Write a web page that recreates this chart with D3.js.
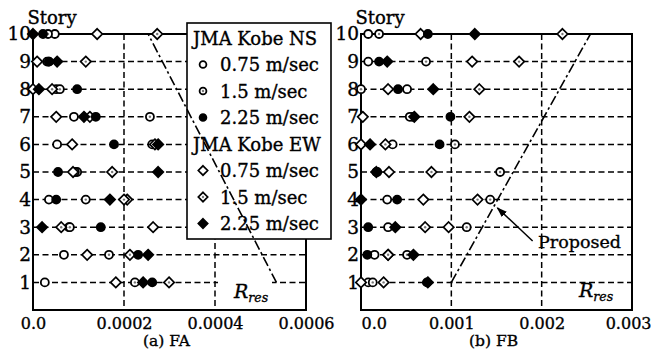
<!DOCTYPE html>
<html>
<head>
<meta charset="utf-8">
<script src="https://cdn.jsdelivr.net/npm/d3@7"></script>
<style>
  body { margin: 0; background: #fff; }
  svg { display: block; }
  text { font-family: "DejaVu Serif", "Liberation Serif", serif; fill: #000; stroke: #000; stroke-width: 0.35px; }
</style>
</head>
<body>
<svg id="chart" width="653" height="353"></svg>
<script>
// Stories (floors) on the vertical axis
const stories = [1, 2, 3, 4, 5, 6, 7, 8, 9, 10];

// Residual drift, frame FA (stories 1..10)
const faNS075 = [0.26e-4, 0.68e-4, 0.79e-4, 0.35e-4, 0.97e-4, 0.53e-4, 0.90e-4, 0.51e-4, 0.31e-4, 0.48e-4];
const faNS150 = [2.24e-4, 1.67e-4, 0.81e-4, 1.16e-4, 0.92e-4, 2.62e-4, 2.57e-4, 0.59e-4, 0.35e-4, 0.33e-4];
const faNS225 = [2.62e-4, 2.31e-4, 1.49e-4, 0.51e-4, 0.55e-4, 1.78e-4, 1.38e-4, 0.97e-4, 0.35e-4, 0.22e-4];
const faEW075 = [1.82e-4, 1.19e-4, 2.64e-4, 2.07e-4, 0.88e-4, 0.86e-4, 0.51e-4, 0.00e-4, 0.09e-4, 1.41e-4];
const faEW150 = [2.99e-4, 2.13e-4, 0.62e-4, 2.00e-4, 1.74e-4, 2.68e-4, 1.25e-4, 0.42e-4, 1.16e-4, 2.73e-4];
const faEW225 = [2.42e-4, 2.53e-4, 0.20e-4, 1.69e-4, 2.75e-4, 2.75e-4, 1.12e-4, 0.13e-4, 0.53e-4, 0.00e-4];

// Residual drift, frame FB (stories 1..10)
const fbNS075 = [0.08e-3, 0.15e-3, 0.30e-3, 0.29e-3, 0.17e-3, 0.35e-3, 0.57e-3, 0.51e-3, 0.08e-3, 0.08e-3];
const fbNS150 = [0.13e-3, 0.51e-3, 1.17e-3, 1.43e-3, 1.54e-3, 1.04e-3, 0.54e-3, 0.00e-3, 0.72e-3, 0.20e-3];
const fbNS225 = [0.73e-3, 0.07e-3, 0.08e-3, 0.40e-3, 0.18e-3, 0.87e-3, 0.99e-3, 0.41e-3, 0.20e-3, 0.74e-3];
const fbEW075 = [0.00e-3, 0.30e-3, 0.97e-3, 0.69e-3, 0.31e-3, 0.00e-3, 0.02e-3, 0.30e-3, 1.23e-3, 0.66e-3];
const fbEW150 = [0.25e-3, 0.30e-3, 0.71e-3, 1.29e-3, 0.78e-3, 0.27e-3, 1.20e-3, 1.31e-3, 1.75e-3, 2.23e-3];
const fbEW225 = [0.74e-3, 0.58e-3, 0.38e-3, 0.00e-3, 0.17e-3, 0.10e-3, 0.59e-3, 0.80e-3, 0.29e-3, 1.26e-3];

// Proposed limit R_res (straight line between story 1 and story 10)
const proposedStories = [1, 10];
const proposedFA = [0.000535, 0.000253];
const proposedFB = [0.0010, 0.00254];

// Axis ticks
const faTicks = [0, 0.0002, 0.0004, 0.0006];
const faTickLabels = ["0.0", "0.0002", "0.0004", "0.0006"];
const fbTicks = [0, 0.001, 0.002, 0.003];
const fbTickLabels = ["0.0", "0.001", "0.002", "0.003"];

// Legend entries
const legendGroups = ["JMA Kobe NS", "JMA Kobe EW"];
const legendLabels = ["0.75 m/sec", "1.5 m/sec", "2.25 m/sec"];

const svg = d3.select("#chart");
const yTop = 34, yBottom = 310;
const y = d3.scaleLinear().domain([0, 10]).range([yBottom, yTop]);

// marker kinds: open circle, dotted circle, filled circle, open diamond, dotted diamond, filled diamond
const symbolKinds = {
  NS075: {shape: "circle", fill: "open"},
  NS150: {shape: "circle", fill: "dot"},
  NS225: {shape: "circle", fill: "solid"},
  EW075: {shape: "diamond", fill: "open"},
  EW150: {shape: "diamond", fill: "dot"},
  EW225: {shape: "diamond", fill: "solid"}
};

function drawMarker(g, kind, cx, cy, scale = 1) {
  const k = symbolKinds[kind];
  const solid = k.fill === "solid";
  if (k.shape === "circle") {
    g.append("circle").attr("cx", cx).attr("cy", cy).attr("r", 4.0 * scale)
      .attr("fill", solid ? "#000" : "#fff").attr("stroke", "#000").attr("stroke-width", 1.8);
  } else {
    const h = 5.2 * scale;
    g.append("path")
      .attr("d", `M${cx},${cy - h}L${cx + h},${cy}L${cx},${cy + h}L${cx - h},${cy}Z`)
      .attr("fill", solid ? "#000" : "#fff").attr("stroke", "#000").attr("stroke-width", 1.7)
      .attr("stroke-linejoin", "miter");
  }
  if (k.fill === "dot") {
    g.append("circle").attr("cx", cx).attr("cy", cy).attr("r", 1.2).attr("fill", "#777");
  }
}

const panels = [
  {
    left: 33, right: 306, domain: [0, 0.0006], ticks: faTicks, tickLabels: faTickLabels,
    title: "(a) FA", storyX: 52,
    series: [["NS075", faNS075], ["NS150", faNS150], ["EW075", faEW075], ["EW150", faEW150], ["NS225", faNS225], ["EW225", faEW225]],
    proposed: proposedFA, rresX: 234, rresY: 298, rresMask: [218, 272]
  },
  {
    left: 361, right: 632, domain: [0, 0.003], ticks: fbTicks, tickLabels: fbTickLabels,
    title: "(b) FB", storyX: 380,
    series: [["NS075", fbNS075], ["NS150", fbNS150], ["EW075", fbEW075], ["EW150", fbEW150], ["NS225", fbNS225], ["EW225", fbEW225]],
    proposed: proposedFB, rresX: 579, rresY: 297, rresMask: null
  }
];

panels.forEach((p, pi) => {
  const x = d3.scaleLinear().domain(p.domain).range([p.left, p.right]);
  const g = svg.append("g");

  // dashed grid: stories 1..9 and inner x ticks
  g.append("g").selectAll("line").data(stories.filter(s => s < 10)).join("line")
    .attr("x1", p.left).attr("x2", p.right).attr("y1", d => y(d)).attr("y2", d => y(d))
    .attr("stroke", "#000").attr("stroke-width", 1.5).attr("stroke-dasharray", "6,3.5");
  g.append("g").selectAll("line").data(p.ticks.slice(1, -1)).join("line")
    .attr("x1", d => x(d)).attr("x2", d => x(d)).attr("y1", yTop).attr("y2", yBottom)
    .attr("stroke", "#000").attr("stroke-width", 1.5).attr("stroke-dasharray", "6,3.5");

  // frame
  g.append("rect").attr("x", p.left).attr("y", yTop)
    .attr("width", p.right - p.left).attr("height", yBottom - yTop)
    .attr("fill", "none").attr("stroke", "#000").attr("stroke-width", 2);

  // y axis (story numbers)
  const ya = g.append("g").attr("transform", `translate(${p.left},0)`)
    .call(d3.axisLeft(y).tickValues(stories).tickFormat(d3.format("d")).tickSize(0).tickPadding(2));
  ya.select(".domain").remove();
  ya.selectAll("text").style("font-size", "18.5px").style("font-family", '"DejaVu Serif", serif');

  // x axis labels
  const xa = g.append("g").attr("transform", `translate(0,${yBottom})`)
    .call(d3.axisBottom(x).tickValues(p.ticks).tickFormat((d, i) => p.tickLabels[i]).tickSize(0).tickPadding(8));
  xa.select(".domain").remove();
  xa.selectAll("text").style("font-size", "16px").style("font-family", '"DejaVu Serif", serif');
  if (pi === 1) {
    xa.selectAll("text").filter((d, i) => i === 0).attr("text-anchor", "start");
    xa.selectAll("text").filter((d, i) => i === p.ticks.length - 1).attr("text-anchor", "end").attr("x", 19);
  }

  g.append("text").attr("x", (p.left + p.right) / 2 - 3).attr("y", 346)
    .attr("text-anchor", "middle").style("font-size", "15.5px").text(p.title);
  g.append("text").attr("x", p.storyX).attr("y", 24)
    .attr("text-anchor", "middle").style("font-size", "18px").text("Story");

  // data markers: open ones first, filled on top
  p.series.forEach(([kind, vals]) => {
    const mg = g.append("g");
    vals.forEach((v, i) => drawMarker(mg, kind, x(v), y(stories[i])));
  });

  p.x = x;
  p.g = g;
});

// legend (left panel, white box)
const lg = svg.append("g");
lg.append("rect").attr("x", 187).attr("y", 23).attr("width", 144).attr("height", 216)
  .attr("fill", "#fff").attr("stroke", "#000").attr("stroke-width", 1.6);
const kinds = [["NS075", "NS150", "NS225"], ["EW075", "EW150", "EW225"]];
legendGroups.forEach((grp, gi) => {
  const top = 38 + gi * 4 * 26.5;
  lg.append("text").attr("x", 193).attr("y", top + 6.5).style("font-size", "18px").text(grp);
  legendLabels.forEach((lab, li) => {
    const cy = top + (li + 1) * 26.5;
    drawMarker(lg, kinds[gi][li], 203, cy, gi === 0 ? 0.85 : 0.9);
    lg.append("text").attr("x", 220).attr("y", cy + 6.5).style("font-size", "18px").text(lab);
  });
});

// proposed R_res lines and labels
panels.forEach((p, pi) => {
  if (p.rresMask) {
    svg.append("rect").attr("x", p.rresMask[0]).attr("y", 280)
      .attr("width", p.rresMask[1] - p.rresMask[0]).attr("height", 22).attr("fill", "#fff");
  }
  const line = d3.line().x(d => p.x(d[0])).y(d => y(d[1]));
  svg.append("path")
    .attr("d", line(p.proposed.map((v, i) => [v, proposedStories[i]])))
    .attr("fill", "none").attr("stroke", "#000").attr("stroke-width", 1.6)
    .attr("stroke-dasharray", "10,3,2.5,3");
  const t = svg.append("text").attr("x", p.rresX).attr("y", p.rresY)
    .style("font-style", "italic").style("font-size", "19px");
  t.append("tspan").text("R");
  t.append("tspan").attr("dy", 4).style("font-size", "12.5px").text("res");
});

// "Proposed" annotation with arrow in panel (b)
const pb = panels[1];
svg.append("defs").append("marker").attr("id", "arrowhead")
  .attr("viewBox", "0 0 10 10").attr("refX", 9).attr("refY", 5)
  .attr("markerWidth", 7).attr("markerHeight", 7).attr("orient", "auto")
  .append("path").attr("d", "M0,1.5L10,5L0,8.5Z").attr("fill", "#000");
svg.append("line")
  .attr("x1", pb.x(0.00190)).attr("y1", y(2.5))
  .attr("x2", pb.x(0.00151)).attr("y2", y(3.7))
  .attr("stroke", "#000").attr("stroke-width", 1.5).attr("marker-end", "url(#arrowhead)");
svg.append("text").attr("x", pb.x(0.00196)).attr("y", y(2.25))
  .style("font-size", "17.5px").text("Proposed");
</script>
</body>
</html>
